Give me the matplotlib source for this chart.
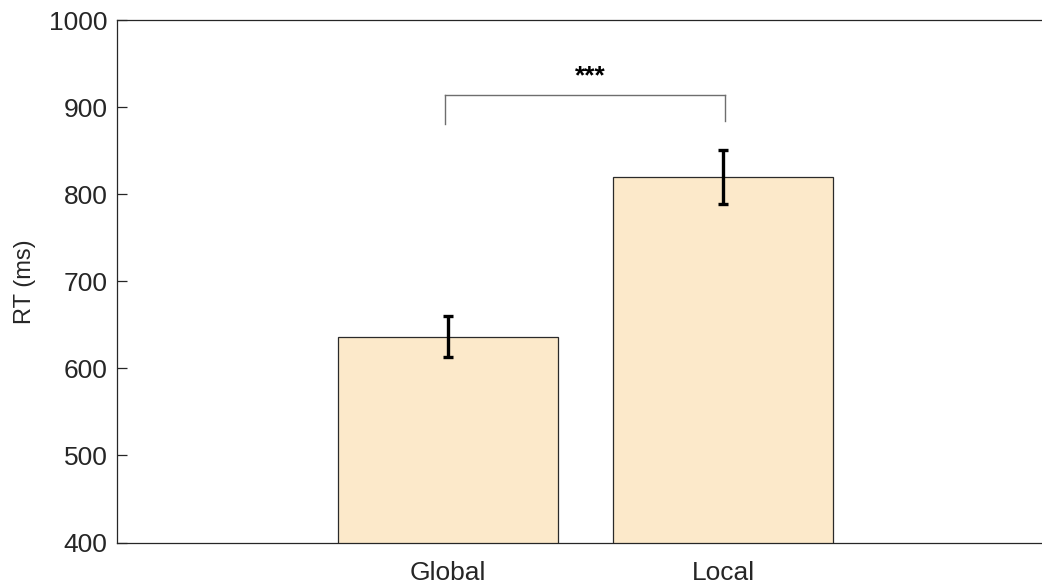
import matplotlib.pyplot as plt
import numpy as np

# reaction times per condition
conditions = ['Global', 'Local']
rt_mean = [636.5, 819.6]
rt_err = [23.7, 31.0]

# significance bracket
sig_text = '***'
sig_pair = [0.99, 2.005]
sig_y = 914.5
sig_drop = [880.5, 884.5]

plt.rcParams['font.family'] = ['Liberation Sans', 'DejaVu Sans']
text_color = '#262626'

fig = plt.figure(figsize=(10.42, 5.87), dpi=100)
ax = fig.add_axes([0.1124, 0.0758, 0.899, 0.8896])

x = np.arange(1, len(conditions) + 1)
ax.bar(x, rt_mean, width=0.8, color='#fce9ca', edgecolor='#2a2a2a', linewidth=0.9, zorder=2)
ax.errorbar(x, rt_mean, yerr=rt_err, fmt='none', ecolor='black', elinewidth=2.4,
            capsize=3.8, capthick=2.4, zorder=3)

# bracket
ax.plot([sig_pair[0], sig_pair[1]], [sig_y, sig_y], color='#6e6e6e', linewidth=1.0, zorder=1)
ax.plot([sig_pair[0], sig_pair[0]], [sig_y, sig_drop[0]], color='#6e6e6e', linewidth=1.0, zorder=1)
ax.plot([sig_pair[1], sig_pair[1]], [sig_y, sig_drop[1]], color='#6e6e6e', linewidth=1.0, zorder=1)
ax.text(np.mean(sig_pair) + 0.02, 936, sig_text, ha='center', va='center',
        fontsize=19, fontweight='bold', color='black')

ax.set_xlim(-0.2, 3.2)
ax.set_ylim(400, 1000)
ax.set_yticks(np.arange(400, 1001, 100))
ax.set_xticks(x)
ax.set_xticklabels(conditions)
ax.set_ylabel('RT (ms)', fontsize=17, color=text_color, labelpad=9)

ax.tick_params(axis='both', direction='in', length=7, width=0.9, colors=text_color,
               labelsize=19, pad=7)
ax.tick_params(axis='x', pad=13)
for side in ['left', 'bottom', 'top']:
    ax.spines[side].set_color(text_color)
    ax.spines[side].set_linewidth(0.9)
ax.spines['right'].set_visible(False)

fig.savefig('out.png', dpi=100)
